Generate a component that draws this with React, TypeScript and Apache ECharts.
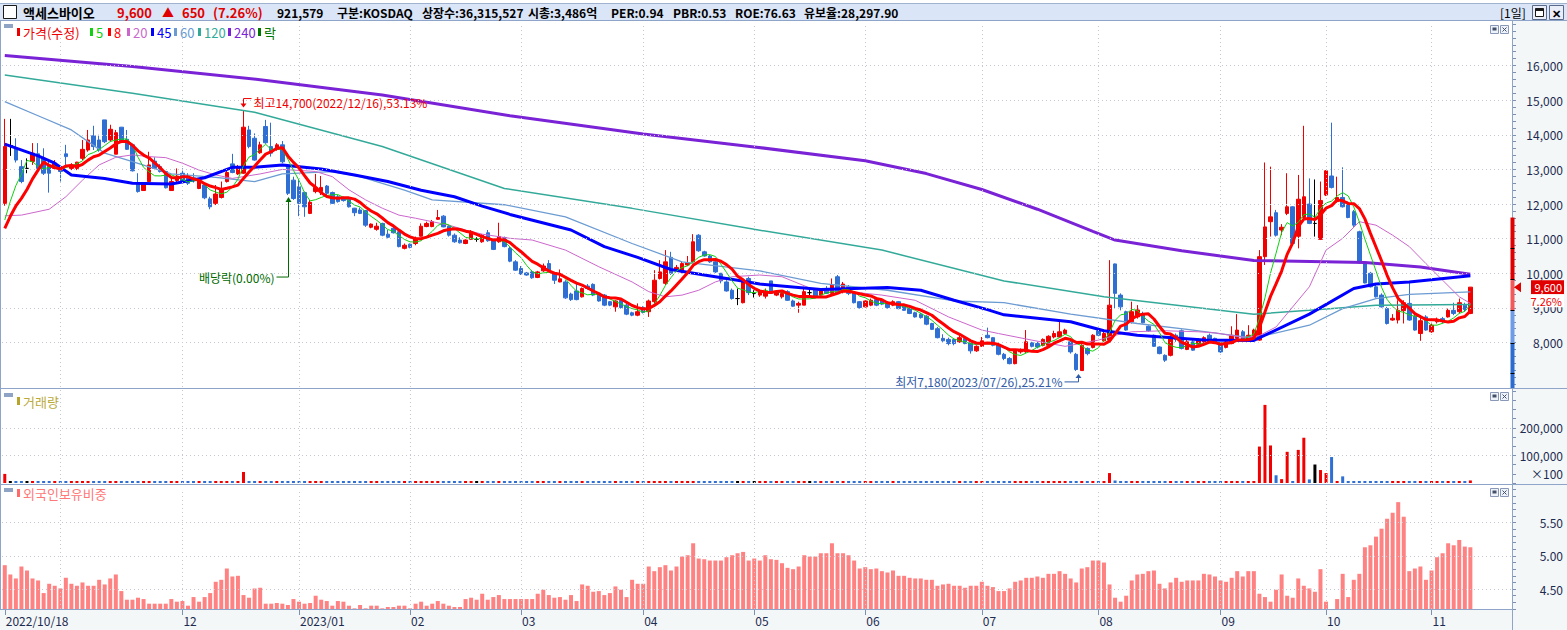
import React, { useEffect, useRef } from 'react';
import * as echarts from 'echarts';

const W = 1567;
const H = 630;
const FONT = '"Noto Sans CJK KR", "Noto Sans", sans-serif';
const AXIS_TEXT = '#1e2b50';
const UP = '#f00000';
const DOWN = '#2f6fd3';

// ---------- calendar ----------
const START_DATE = '2022-10-18';
const END_DATE = '2023-11-10';
const HOLIDAYS = [
  '2022-12-30', '2023-01-23', '2023-01-24', '2023-03-01', '2023-05-01', '2023-05-05',
  '2023-05-29', '2023-06-06', '2023-08-15', '2023-09-28', '2023-09-29', '2023-10-02',
  '2023-10-03', '2023-10-09',
];
const PAD_SLOTS = 7;

// closes before the first visible bar (implied by where MA5 / MA8 start)
const PRE_CLOSES = [10900, 10880, 10900, 10980, 11000, 11020, 11030];

// [open, close, low, high]
const CANDLES: [number, number, number, number][] = [
  [12020, 13660, 11950, 14460], [13690, 13690, 13390, 14460], [13590, 13270, 13200, 13900], [13080, 12650, 12600, 13270],
  [13030, 13030, 12890, 13320], [13230, 13470, 13130, 13760], [13450, 13030, 12940, 13760], [13320, 12890, 12840, 13610],
  [13130, 12890, 12330, 13270], [13030, 13180, 12980, 13270], [13050, 12940, 12650, 13080], [13450, 13370, 13130, 13710],
  [13030, 13130, 12980, 13180], [13030, 13210, 12980, 13220], [13320, 13580, 13270, 13850], [13560, 13850, 13510, 14140],
  [13970, 13660, 13560, 14260], [13850, 13560, 13510, 14000], [14430, 13800, 13760, 14430], [13850, 14160, 13800, 14290],
  [13440, 14060, 13440, 14140], [14220, 13800, 13760, 14220], [13870, 13580, 13560, 14140], [13710, 12960, 12940, 13740],
  [12620, 12360, 12330, 12890], [12390, 12600, 12380, 12620], [12650, 13130, 12650, 13510], [13240, 13030, 12980, 13350],
  [13080, 12940, 12910, 13150], [12940, 12470, 12450, 12960], [12390, 12650, 12380, 12770], [12680, 12810, 12620, 13030],
  [12890, 12650, 12600, 13030], [12790, 12600, 12550, 12890], [12760, 12670, 12620, 12890], [12450, 12670, 12430, 12690],
  [12550, 12180, 12140, 12600], [12150, 11920, 11850, 12210], [12020, 12290, 11970, 12550], [12190, 12410, 12160, 12650],
  [12650, 12910, 12620, 12960], [13160, 12910, 12890, 13450], [12870, 13080, 12840, 13130], [12890, 14220, 12870, 14700],
  [14140, 13660, 13610, 14260], [13900, 13270, 13250, 14040],
  [13480, 13710, 13450, 13800], [14240, 13770, 13740, 14430], [13660, 13470, 13370, 14350], [13580, 13710, 13540, 13760],
  [13710, 13220, 13180, 13820], [13080, 12310, 12260, 13130], [12690, 12160, 12120, 12790], [12500, 12020, 11650, 12690],
  [12330, 11920, 11630, 12360], [11730, 12050, 11710, 12120], [12360, 12480, 12310, 12870], [12360, 12480, 12260, 12810],
  [12520, 12310, 12260, 12550], [12330, 12020, 12000, 12360], [12210, 12070, 12040, 12260], [12160, 12100, 12070, 12210],
  [12140, 11920, 11900, 12160], [11880, 11750, 11650, 11890], [11830, 11730, 11710, 11900], [11810, 11390, 11340, 11830],
  [11330, 11420, 11300, 11440], [11270, 11360, 11230, 11460], [11440, 11100, 11070, 11460], [11130, 11040, 11010, 11250],
  [11300, 11170, 11150, 11340], [11200, 10770, 10750, 11250], [10720, 10810, 10690, 10860], [10840, 10750, 10720, 10860],
  [10860, 11010, 10810, 11060], [11070, 11360, 11060, 11440], [11350, 11440, 11330, 11490], [11350, 11490, 11330, 11540],
  [11560, 11610, 11540, 11830], [11650, 11340, 11330, 11680], [11360, 11100, 11060, 11390], [11100, 10910, 10880, 11150],
  [10960, 10880, 10860, 11040], [10860, 10960, 10840, 10980], [10980, 11200, 10960, 11250], [10980, 10980, 10910, 11040],
  [10910, 11100, 10880, 11130], [11170, 10940, 10910, 11250], [10940, 10690, 10670, 10960], [10910, 11060, 10880, 11460],
  [11030, 10770, 10750, 11060], [10720, 10350, 10320, 10770],
  [10330, 10090, 10070, 10380], [10140, 9980, 9950, 10210], [10010, 9950, 9930, 10040], [10040, 9870, 9840, 10090],
  [9880, 10040, 9860, 10070], [10070, 10210, 10040, 10280], [10280, 10070, 10030, 10380], [10010, 9800, 9690, 10040],
  [9750, 9840, 9740, 10110], [9750, 9290, 9260, 9800], [9400, 9240, 9200, 9440], [9490, 9240, 9220, 9730],
  [9320, 9560, 9300, 9590], [9630, 9560, 9530, 9690], [9680, 9370, 9340, 9710], [9420, 9200, 9180, 9440],
  [9370, 9080, 9050, 9400], [9180, 9080, 9050, 9200], [9030, 9200, 8890, 9220], [9220, 9010, 8980, 9240],
  [9080, 8820, 8790, 9130], [8860, 8790, 8760, 8890], [8790, 8890, 8760, 9130], [9010, 8870, 8840, 9050],
  [8890, 9200, 8740, 9240], [9180, 9800, 9130, 10090], [9850, 10040, 9820, 10380], [9710, 10330, 9660, 10670],
  [10460, 10000, 9950, 10620], [10070, 10170, 10040, 10240], [10040, 10280, 10000, 10330], [10240, 10300, 10210, 10500],
  [10330, 10910, 10300, 11130], [11100, 10650, 10620, 11130], [10620, 10500, 10480, 10650], [10500, 10330, 10300, 10530],
  [10330, 10040, 10010, 10380], [10000, 9780, 9710, 10010], [9750, 9490, 9470, 9800], [9510, 9270, 9240, 9560],
  [9270, 9270, 9080, 9560], [9150, 9800, 9130, 9820], [9850, 9440, 9370, 9900], [9420, 9420, 9300, 9510],
  [9370, 9470, 9320, 9510], [9340, 9480, 9270, 9560], [9780, 9420, 9400, 9780], [9370, 9470, 9340, 9510],
  [9320, 9420, 9270, 9470], [9470, 9220, 9200, 9510], [9200, 9050, 9030, 9240], [9080, 9130, 8860, 9180],
  [9080, 9470, 9080, 9610], [9440, 9440, 9340, 9590], [9530, 9320, 9300, 9560], [9370, 9490, 9350, 9530],
  [9530, 9420, 9400, 9630], [9420, 9660, 9400, 9850], [9900, 9420, 9400, 9950], [9470, 9690, 9420, 9750],
  [9610, 9420, 9370, 9660], [9440, 9150, 9130, 9470], [9180, 9010, 8980, 9200], [9030, 9200, 9010, 9220],
  [9080, 9220, 9050, 9270], [9240, 9080, 9050, 9270], [9200, 9110, 9080, 9220], [9150, 9010, 8980, 9180],
  [9080, 9180, 9050, 9220], [9180, 8980, 8960, 9200], [9050, 8930, 8920, 9080], [8980, 8840, 8820, 9010],
  [8860, 8740, 8720, 8890], [8820, 8720, 8690, 8860], [8760, 8530, 8500, 8790], [8550, 8380, 8360, 8570],
  [8400, 8140, 8120, 8450], [8120, 8050, 8020, 8240], [8090, 7970, 7920, 8140], [8090, 7970, 7920, 8120],
  [8020, 8140, 7990, 8210], [8120, 7970, 7950, 8140], [7990, 7760, 7680, 8020], [7760, 7890, 7730, 7920],
  [7890, 8050, 7870, 8160], [8210, 8140, 8120, 8430], [8140, 7920, 7890, 8160], [7920, 7660, 7630, 7950],
  [7660, 7540, 7490, 7700], [7540, 7390, 7370, 7580],
  [7390, 7760, 7370, 7780], [7730, 7780, 7680, 7830], [7730, 8020, 7700, 8360], [7990, 7890, 7860, 8020],
  [7970, 7870, 7830, 8020], [7920, 8090, 7890, 8120], [7920, 8180, 7890, 8210], [8160, 8260, 8120, 8340],
  [8160, 8310, 8140, 8600], [8260, 8360, 8240, 8400], [8020, 7730, 7680, 8070], [7660, 7220, 7180, 7700],
  [7190, 7920, 7180, 7950], [7830, 7680, 7630, 7860], [7860, 8210, 7830, 8240], [8340, 8210, 8180, 8380],
  [8050, 8260, 8020, 8310], [8070, 9080, 8050, 10380], [10270, 9420, 8980, 10280], [9370, 9030, 8930, 9420],
  [8890, 8360, 8340, 8920], [8600, 8890, 8550, 9180], [8740, 8940, 8690, 9080], [8840, 8570, 8550, 8890],
  [8470, 8340, 8310, 8500], [8210, 7890, 7870, 8230], [7870, 7680, 7660, 7890], [7630, 7490, 7440, 7660],
  [7630, 8160, 7600, 8210], [8210, 8090, 8020, 8260], [8340, 7830, 7800, 8380], [7800, 8020, 7780, 8070],
  [8020, 7780, 7760, 8070], [7950, 8070, 7920, 8120], [8020, 8140, 7990, 8180], [8210, 8020, 7990, 8260],
  [8120, 8020, 7990, 8140], [7950, 7730, 7700, 7970], [7860, 8020, 7830, 8070], [7970, 8210, 7950, 8470],
  [8120, 8360, 8090, 8820], [8310, 8070, 8050, 8360], [8070, 8210, 8020, 8500],
  [8070, 8360, 8020, 8400], [8070, 10480, 8050, 10670], [10480, 11340, 10240, 13200], [11490, 11630, 11060, 13080],
  [11750, 11100, 11060, 11830], [11250, 11330, 11100, 11420], [11730, 11920, 11680, 12890], [11920, 10860, 10840, 11940],
  [11070, 12140, 10720, 12840], [11610, 12210, 11590, 14260], [12000, 11440, 11420, 12740], [11440, 11440, 11060, 12710],
  [10980, 12100, 10960, 12650], [12260, 12960, 12230, 12980], [12810, 12480, 12450, 14350], [12070, 12190, 12040, 12790],
  [12190, 11920, 11900, 13060], [12020, 11610, 11590, 12070], [11780, 11390, 11340, 11830], [11200, 10300, 10280, 11230],
  [10280, 9720, 9710, 10330], [10000, 9610, 9590, 10040], [9610, 9320, 9300, 9660], [9370, 9030, 9010, 9420],
  [8980, 8550, 8520, 9030], [8650, 8700, 8630, 8820], [8650, 8930, 8550, 9220], [8920, 9150, 8550, 9220],
  [9130, 8650, 8630, 9750], [8760, 8360, 8340, 8820], [8260, 8630, 8050, 8740], [8740, 8360, 8340, 8790],
  [8310, 8500, 8280, 8550], [8600, 8660, 8550, 8720], [8690, 8630, 8550, 8740], [8740, 8930, 8720, 8980],
  [8930, 8840, 8790, 9150], [8890, 9150, 8840, 9270], [9080, 8950, 8890, 9150], [8840, 9600, 8820, 9600],
];

// volume, in units of 100 shares
const VOLUME = [
  33000, 5000, 2500, 1500, 1400, 4000, 2500, 1500, 1400, 1500,
  1500, 2500, 1500, 1400, 1500, 1500, 1400, 1500, 1500, 1500,
  2500, 1500, 1500, 1400, 1500, 1500, 2500, 1500, 1500, 1500,
  1500, 1500, 1400, 1500, 1500, 1500, 1500, 1400, 1500, 1500,
  1500, 1500, 1500, 40000, 2500, 1500, 1500, 2500, 4000, 1500,
  2500, 2500, 1500, 1500, 1400, 1500, 2500, 1500, 1500, 1500,
  1500, 1400, 1500, 1500, 1500, 1500, 1500, 1400, 1500, 1500,
  1500, 1500, 1500, 1500, 1400, 1500, 1500, 1500, 1500, 1500,
  1500, 1500, 1400, 1500, 1500, 1500, 1500, 1500, 1500, 1500,
  1500, 1500, 1500, 1400, 1500, 1500, 1500, 1500, 1500, 1500,
  1500, 1500, 1500, 1500, 1500, 1400, 1500, 1500, 1500, 1500,
  1500, 1500, 1500, 1500, 1500, 1500, 1500, 4000, 2500, 1500,
  1500, 1500, 1500, 1500, 2500, 1500, 1500, 1500, 1500, 1500,
  1500, 1500, 1500, 1500, 1500, 1500, 1500, 1500, 1500, 1500,
  1500, 1500, 1500, 1500, 1500, 1500, 1500, 1500, 1500, 1500,
  1500, 1500, 1500, 1500, 1500, 1500, 1500, 1500, 1500, 1500,
  1500, 1500, 1500, 1500, 1500, 1500, 1500, 1500, 1500, 1500,
  1500, 1500, 1500, 1500, 1500, 1500, 1500, 1500, 1500, 1500,
  1500, 1500, 1500, 1500, 1500, 1500, 1500, 1500, 1500, 1500,
  1500, 1500, 1500, 1500, 1500, 1500, 1500, 1500, 1500, 36000,
  9000, 3000, 3000, 4000, 1500, 1500, 1500, 1500, 1500, 1500,
  1500, 1500, 1500, 1500, 1500, 1500, 1500, 1500, 1500, 1500,
  2500, 1500, 4000, 1500, 1500, 1500, 132000, 283000, 136000, 28000,
  14000, 113000, 5000, 120000, 164000, 13000, 67000, 47000, 36000, 94000,
  5000, 24000, 5000, 4000, 5000, 3000, 3000, 3000, 2500, 3000,
  2500, 2500, 2500, 5000, 2000, 2000, 2000, 2000, 2000, 2000,
  2000, 2000, 2000, 2000, 9215.79,
];

// foreign ownership ratio (%)
const FOREIGN = [
  4.86, 4.72, 4.66, 4.84, 4.78, 4.66, 4.63, 4.44, 4.58, 4.55,
  4.51, 4.67, 4.58, 4.55, 4.60, 4.55, 4.55, 4.64, 4.57, 4.66,
  4.72, 4.47, 4.34, 4.34, 4.37, 4.35, 4.28, 4.28, 4.28, 4.28,
  4.35, 4.31, 4.32, 4.25, 4.38, 4.31, 4.38, 4.44, 4.61, 4.64,
  4.81, 4.69, 4.70, 4.41, 4.37, 4.51, 4.52, 4.28, 4.28, 4.29,
  4.28, 4.26, 4.35, 4.31, 4.28, 4.29, 4.40, 4.34, 4.32, 4.25,
  4.32, 4.31, 4.25, 4.21, 4.26, 4.21, 4.25, 4.25, 4.21, 4.23,
  4.23, 4.25, 4.25, 4.21, 4.28, 4.31, 4.25, 4.28, 4.32, 4.28,
  4.25, 4.23, 4.23, 4.35, 4.37, 4.34, 4.43, 4.34, 4.38, 4.41,
  4.35, 4.35, 4.35, 4.35, 4.35, 4.35, 4.43, 4.49, 4.41, 4.37,
  4.38, 4.34, 4.41, 4.32, 4.57, 4.55, 4.46, 4.47, 4.41, 4.44,
  4.54, 4.49, 4.38, 4.64, 4.58, 4.58, 4.84, 4.77, 4.83, 4.86,
  4.78, 4.84, 4.99, 5.01, 5.19, 4.96, 4.95, 4.93, 4.93, 4.93,
  4.98, 5.01, 5.04, 5.06, 4.93, 4.96, 4.93,
  5.01, 4.95, 4.94, 4.89, 4.82, 4.80, 4.84, 5.01, 4.99, 4.99,
  5.04, 5.04, 5.19, 5.04, 5.04, 5.01, 4.93, 4.81, 4.83, 4.80,
  4.81, 4.77, 4.75, 4.78, 4.70, 4.70, 4.67, 4.66, 4.66, 4.64,
  4.64, 4.55, 4.57, 4.58, 4.55, 4.55, 4.52, 4.55, 4.55, 4.61,
  4.55, 4.53, 4.47, 4.47, 4.51, 4.61, 4.63, 4.67, 4.67, 4.69,
  4.67, 4.73, 4.73, 4.77, 4.73, 4.66, 4.60, 4.81, 4.83, 4.93,
  4.93, 4.90, 4.57, 4.37, 4.31, 4.40, 4.63, 4.72, 4.73, 4.77,
  4.78, 4.58, 4.51, 4.60, 4.67, 4.61, 4.63, 4.63, 4.63, 4.73,
  4.72, 4.69, 4.63, 4.61, 4.67, 4.77, 4.69, 4.77, 4.77, 4.43,
  4.38, 4.31, 4.49, 4.72, 4.40, 4.37, 4.66, 4.55, 4.51, 4.46,
  4.80, 4.31, 4.20, 4.35, 4.73, 4.38, 4.64, 4.73, 5.13, 5.16,
  5.29, 5.41, 5.56, 5.65, 5.81, 5.59, 4.77, 4.81, 4.84, 4.64,
  4.78, 4.98, 5.04, 5.19, 5.16, 5.24, 5.14, 5.13,
];

// moving averages: [bar index, value]
const MA20_KNOTS: [number, number][] = [
  [0, 11660], [3, 11680], [8, 11850], [11, 12210], [14, 12690], [17, 13130], [20, 13350], [23, 13420],
  [26, 13370], [29, 13340], [32, 13180], [35, 12980], [38, 12840], [41, 12740], [46, 12870], [50, 13000],
  [56, 12940], [59, 12790], [62, 12410], [65, 12120], [68, 11880], [71, 11680], [74, 11590], [77, 11490],
  [80, 11390], [83, 11250], [86, 11130], [91, 11010], [95, 10960], [101, 10670], [107, 10190], [113, 9750],
  [116, 9470], [119, 9320], [122, 9370], [125, 9510], [128, 9750], [131, 9900], [136, 9950], [140, 9900],
  [146, 9510], [152, 9470], [158, 9370], [164, 9220], [170, 8740], [176, 8360], [179, 8260], [185, 8070],
  [191, 7890], [197, 8070], [200, 8210], [203, 8310], [209, 8340], [215, 8310], [218, 8280], [223, 8150],
  [226, 8200], [229, 8450], [235, 9610], [238, 10670], [241, 11010], [244, 11490], [247, 11390], [250, 11100],
  [253, 10770], [256, 10280], [259, 9800], [262, 9320], [264, 9130],
];
const MA45_KNOTS: [number, number][] = [
  [0, 13730], [6, 13390], [9, 13180], [12, 12840], [18, 12740], [23, 12600], [30, 12580], [36, 12760],
  [41, 13060], [45, 13060], [50, 13130], [57, 13010], [63, 12840], [69, 12650], [75, 12400], [81, 12210],
  [86, 11940], [91, 11700], [102, 11250], [108, 10770], [114, 10460], [120, 10110], [126, 9950], [132, 9800],
  [136, 9690], [147, 9530], [159, 9590], [165, 9510], [171, 9220], [177, 8950], [180, 8800], [192, 8600],
  [198, 8340], [204, 8210], [216, 8070], [225, 8060], [235, 8820], [243, 9560], [247, 9690], [253, 9750],
  [264, 9930],
];
const MA60_KNOTS: [number, number][] = [
  [0, 14960], [6, 14550], [12, 14140], [18, 13470], [23, 13225], [30, 12870], [38, 12770], [45, 12650],
  [50, 12870], [59, 12935], [64, 12790], [72, 12400], [77, 12120], [90, 11980], [101, 11630], [113, 10860],
  [122, 10330], [136, 10070], [147, 9710], [159, 9510], [171, 9200], [180, 9150], [192, 8820], [204, 8550],
  [213, 8380], [225, 8130], [235, 8500], [241, 8980], [247, 9270], [253, 9390], [264, 9465],
];
const MA120_KNOTS: [number, number][] = [
  [0, 15730], [23, 15200], [45, 14650], [68, 13660], [90, 12450], [113, 11875], [135, 11270], [158, 10670],
  [180, 9780], [198, 9320], [225, 8820], [235, 8930], [247, 9080], [264, 9100],
];
const MA240_KNOTS: [number, number][] = [
  [0, 16290], [23, 15970], [46, 15590], [68, 15150], [91, 14550], [115, 14020], [135, 13650], [155, 13250],
  [166, 12880], [176, 12420], [186, 11850], [196, 11210], [200, 10960], [212, 10650], [225, 10370], [245, 10310],
  [255, 10180], [264, 9970],
];

const EX_DIV_INDEX = 51;
// coloured price bar on the right axis (price bounds)
const RANGE_BAR: [number, number, string][] = [
  [11610, 9800, '#e00000'],
  [9800, 8940, '#f25a5a'],
  [8940, 7980, '#6e9ce6'],
  [7980, 6600, '#2c6cd0'],
];
const RANGE_TICKS = [10730, 9830, 8930, 7980, 7110];

const PRICE_GRID = [8000, 9000, 10000, 11000, 12000, 13000, 14000, 15000, 16000];
const VOLUME_GRID = [100000, 200000];
const FOREIGN_GRID = [4.5, 5.0, 5.5];

const HEADER_ITEMS: [string, number, string][] = [
  ['구분:KOSDAQ', 337, '#000000'],
  ['상장수:36,315,527', 422, '#000000'],
  ['시총:3,486억', 528, '#000000'],
  ['PER:0.94', 611, '#000000'],
  ['PBR:0.53', 673, '#000000'],
  ['ROE:76.63', 735, '#000000'],
  ['유보율:28,297.90', 804, '#000000'],
];
const STOCK_NAME = '액세스바이오';

const LEGEND_ITEMS: [string, string, number][] = [
  ['가격(수정)', '#ee0000', 17],
  ['5', '#10d010', 90],
  ['8', '#ff0000', 108],
  ['20', '#cc66cc', 127],
  ['45', '#0000ff', 151],
  ['60', '#6b9bd2', 174],
  ['120', '#33aa99', 198],
  ['240', '#7a22d6', 228],
  ['락', '#007700', 258],
];

// ---------- derived ----------
function tradingDays(start: string, end: string, holidays: string[]) {
  const out: string[] = [];
  const d = new Date(start + 'T00:00:00Z');
  const e = new Date(end + 'T00:00:00Z');
  const hol = new Set(holidays);
  while (d.getTime() <= e.getTime()) {
    const wd = d.getUTCDay();
    const s = d.toISOString().slice(0, 10);
    if (wd !== 0 && wd !== 6 && !hol.has(s)) out.push(s.replace(/-/g, '/'));
    d.setUTCDate(d.getUTCDate() + 1);
  }
  return out;
}

const DATES = tradingDays(START_DATE, END_DATE, HOLIDAYS).slice(0, CANDLES.length);
const CATEGORIES = [...DATES];
for (let k = 1; k <= PAD_SLOTS; k++) CATEGORIES.push('+' + k);
const N = CATEGORIES.length;

const MONTH_STARTS: number[] = [];
for (let i = 1; i < DATES.length; i++) {
  if (DATES[i].slice(5, 7) !== DATES[i - 1].slice(5, 7)) MONTH_STARTS.push(i);
}
const LABELS: Record<number, string> = { 0: DATES[0] };
{
  let last = 0;
  MONTH_STARTS.forEach((i) => {
    if (i - last >= 15) {
      const [y, m] = DATES[i].split('/');
      LABELS[i] = m === '01' ? `${y}/${m}` : m;
      last = i;
    }
  });
}

const fmt = (v: number) => Math.round(v).toLocaleString('en-US');

function movingAverage(n: number) {
  const closes = CANDLES.map((c) => c[1]);
  const all = [...PRE_CLOSES, ...closes];
  const off = PRE_CLOSES.length;
  return closes.map((_, i) => {
    const end = i + off;
    const start = end - n + 1;
    if (start < 0) return null;
    let s = 0;
    for (let k = start; k <= end; k++) s += all[k];
    return Math.round(s / n);
  });
}

function knotsToData(knots: [number, number][]) {
  const arr: (number | null)[] = new Array(N).fill(null);
  knots.forEach(([i, v]) => (arr[i] = v));
  return arr;
}

function candleColor(i: number) {
  const [o, c] = CANDLES[i];
  return c > o ? UP : c < o ? DOWN : '#000000';
}

function gridLines(idx: number, yValues: number[]) {
  return {
    type: 'line',
    xAxisIndex: idx,
    yAxisIndex: idx,
    data: new Array(N).fill(null),
    symbol: 'none',
    silent: true,
    z: 1,
    lineStyle: { width: 0 },
    markLine: {
      silent: true,
      symbol: ['none', 'none'],
      animation: false,
      label: { show: false },
      emphasis: { disabled: true },
      lineStyle: { color: '#c3c8d2', width: 1, type: [1, 3] },
      data: [
        ...yValues.map((v) => ({ yAxis: v })),
        ...MONTH_STARTS.map((i) => ({ xAxis: CATEGORIES[i] })),
      ],
    },
  };
}

function maLine(data: (number | null)[], color: string, width: number, z: number) {
  return {
    type: 'line',
    xAxisIndex: 0,
    yAxisIndex: 0,
    data,
    symbol: 'none',
    connectNulls: true,
    silent: true,
    z,
    lineStyle: { color, width },
  };
}

function buildOption() {
  const hiddenX = (g: number) => ({
    type: 'category',
    gridIndex: g,
    data: CATEGORIES,
    boundaryGap: true,
    axisLine: { show: false },
    axisTick: { show: false },
    axisLabel: { show: false },
    splitLine: { show: false },
  });
  const yBase = {
    type: 'value',
    position: 'right',
    axisLine: { show: false },
    axisTick: { show: true, length: 4, lineStyle: { color: '#7d90b0' } },
    splitLine: { show: false },
  };
  const labelStyle = { color: AXIS_TEXT, fontSize: 12, fontFamily: FONT, align: 'right', margin: 51 };

  return {
    animation: false,
    backgroundColor: 'transparent',
    grid: [
      { left: 2, right: 55, top: 24, height: 367, outerBoundsMode: 'none' },
      { left: 2, right: 55, top: 391, height: 92, outerBoundsMode: 'none' },
      { left: 2, right: 55, top: 489.5, height: 119.5, outerBoundsMode: 'none' },
    ],
    xAxis: [
      hiddenX(0),
      hiddenX(1),
      {
        type: 'category',
        gridIndex: 2,
        data: CATEGORIES,
        boundaryGap: true,
        axisLine: { show: false },
        axisTick: {
          show: true,
          alignWithLabel: true,
          length: 6,
          interval: (i: number) => LABELS[i] !== undefined,
          lineStyle: { color: '#7d90b0' },
        },
        axisLabel: {
          show: true,
          interval: (i: number) => LABELS[i] !== undefined,
          formatter: (_v: string, i: number) => LABELS[i] ?? '',
          align: 'left',
          margin: 5,
          padding: [0, 0, 0, 1],
          color: AXIS_TEXT,
          fontSize: 12,
          fontFamily: FONT,
        },
        splitLine: { show: false },
      },
    ],
    yAxis: [
      {
        ...yBase,
        gridIndex: 0,
        min: 6600,
        max: 17200,
        interval: 200,
        axisLabel: {
          ...labelStyle,
          formatter: (v: number) => (v % 1000 === 0 && v >= 8000 && v <= 16000 ? fmt(v) : ''),
        },
      },
      {
        ...yBase,
        gridIndex: 1,
        min: 0,
        max: 1000000 / 3,
        interval: 100000 / 3,
        axisLabel: {
          ...labelStyle,
          formatter: (v: number) => {
            const r = Math.round(v);
            if (Math.abs(r - 100000) < 3) return '100,000';
            if (Math.abs(r - 200000) < 3) return '200,000';
            if (Math.abs(r - 33333) < 3) return '×100';
            return '';
          },
        },
      },
      {
        ...yBase,
        gridIndex: 2,
        min: 4.2,
        max: 6.0,
        interval: 0.1,
        axisLabel: {
          ...labelStyle,
          formatter: (v: number) => {
            const t = Math.round(v * 100);
            return t % 50 === 0 && t >= 450 && t <= 550 ? (t / 100).toFixed(2) : '';
          },
        },
      },
    ],
    series: [
      gridLines(0, PRICE_GRID),
      {
        type: 'candlestick',
        xAxisIndex: 0,
        yAxisIndex: 0,
        data: CANDLES.map((c) => [c[0], c[1], c[2], c[3]]),
        barWidth: 4,
        silent: true,
        z: 2,
        itemStyle: {
          color: UP,
          color0: DOWN,
          borderColor: UP,
          borderColor0: DOWN,
          borderColorDoji: '#000000',
          borderWidth: 1,
        },
      },
      maLine(knotsToData(MA240_KNOTS), '#7a22d6', 3, 3),
      maLine(knotsToData(MA120_KNOTS), '#33aa99', 1.5, 3),
      maLine(knotsToData(MA60_KNOTS), '#6b9bd2', 1.3, 3),
      maLine(knotsToData(MA20_KNOTS), '#cc66cc', 1, 3),
      maLine(knotsToData(MA45_KNOTS), '#0000ff', 3, 4),
      maLine(movingAverage(5), '#10d010', 1, 4),
      maLine(movingAverage(8), '#ff0000', 3, 5),
      gridLines(1, VOLUME_GRID),
      {
        type: 'bar',
        xAxisIndex: 1,
        yAxisIndex: 1,
        data: VOLUME.map((v, i) => ({ value: v, itemStyle: { color: candleColor(i) } })),
        barWidth: 3,
        barMinHeight: 2,
        silent: true,
        z: 2,
      },
      gridLines(2, FOREIGN_GRID),
      {
        type: 'bar',
        xAxisIndex: 2,
        yAxisIndex: 2,
        data: FOREIGN,
        barWidth: 4,
        barMinHeight: 1,
        silent: true,
        z: 2,
        itemStyle: { color: '#ff8282' },
      },
    ],
  };
}

// ---------- graphics ----------
function txt(x: number, y: number, text: string, fill: string, size = 12, weight = 'normal', align = 'left', z = 20) {
  return {
    type: 'text',
    x,
    y,
    z,
    silent: true,
    style: {
      text,
      fill,
      fontSize: size,
      fontFamily: FONT,
      fontWeight: weight,
      align,
      verticalAlign: 'middle',
      textAlign: align,
      textVerticalAlign: 'middle',
    },
  };
}
function ln(x1: number, y1: number, x2: number, y2: number, stroke: string, z = 15, w = 1) {
  return { type: 'line', z, silent: true, shape: { x1, y1, x2, y2 }, style: { stroke, lineWidth: w } };
}
function rc(x: number, y: number, w: number, h: number, fill: string, stroke?: string, z = 15) {
  return {
    type: 'rect',
    z,
    silent: true,
    shape: { x, y, width: w, height: h },
    style: { fill, stroke: stroke ?? 'none', lineWidth: stroke ? 1 : 0 },
  };
}
function poly(points: number[][], fill: string, z = 20) {
  return { type: 'polygon', z, silent: true, shape: { points }, style: { fill } };
}
function panelIcons(y: number) {
  return [
    rc(1490.5, y + 0.5, 8, 8, '#eef2fa', '#8a98b8', 20),
    rc(1492.5, y + 2.5, 4, 3, '#44506a', undefined, 21),
    rc(1500.5, y + 0.5, 8, 8, '#eef2fa', '#8a98b8', 20),
    ln(1502.5, y + 2.5, 1506.5, y + 6.5, '#44506a', 21),
    ln(1506.5, y + 2.5, 1502.5, y + 6.5, '#44506a', 21),
  ];
}

function buildGraphics(chart: any) {
  const P = (i: number, v: number) => chart.convertToPixel({ gridIndex: 0 }, [i, v]) as number[];
  const Y = (v: number) => chart.convertToPixel({ yAxisIndex: 0 }, v) as number;
  const els: any[] = [];
  const BORDER = '#8ea4c8';

  // backgrounds
  els.push(rc(1512, 21, 55, 609, '#f3f7f8', undefined, -1));
  els.push(rc(0, 609.5, 1512, 21, '#f3f7f8', undefined, -1));

  // header
  els.push(rc(0, 3, W, 18, '#dae5f7', undefined, 10));
  els.push(ln(0, 3.5, W, 3.5, '#9fb2cf', 11));
  els.push(ln(0, 20.5, W, 20.5, BORDER, 11));
  els.push(rc(3.5, 5.5, 13, 13, '#ffffff', '#1a1a1a', 12));
  const last = CANDLES[CANDLES.length - 1][1];
  const prev = CANDLES[CANDLES.length - 2][1];
  const chg = last - prev;
  const pct = ((chg / prev) * 100).toFixed(2);
  els.push(txt(23, 12.5, STOCK_NAME, '#000000', 13, 'bold'));
  HEADER_ITEMS.forEach(([t, x, c]) => els.push(txt(x, 12.5, t, c, 12, 'bold')));
  els.push(txt(117, 12.5, fmt(last), '#e00000', 13, 'bold'));
  els.push(txt(162, 12.5, chg >= 0 ? '▲' : '▼', '#e00000', 12, 'bold'));
  els.push(txt(182, 12.5, fmt(Math.abs(chg)), '#e00000', 13, 'bold'));
  els.push(txt(213, 12.5, `(${pct}%)`, '#e00000', 13, 'bold'));
  els.push(txt(277, 12.5, fmt(VOLUME[VOLUME.length - 1] * 100), '#000000', 12, 'bold'));
  els.push(txt(1500, 12.5, '[1일]', '#000000', 12, 'normal'));
  els.push(rc(1532.5, 5.5, 14, 14, '#e9eef8', '#5a6a8a', 12));
  els.push(rc(1535.5, 8.5, 8, 8, '#ffffff', '#1a1a1a', 13));
  els.push(rc(1535.5, 8.5, 8, 2.5, '#1a1a1a', undefined, 14));
  els.push(rc(1549.5, 5.5, 14, 14, '#e9eef8', '#5a6a8a', 12));
  els.push(txt(1556.5, 12.5, '✕', '#000000', 11, 'bold', 'center'));

  // frame lines
  els.push(ln(0.5, 21, 0.5, 610, BORDER));
  els.push(ln(1512.5, 21, 1512.5, H, BORDER));
  els.push(ln(0, 388.5, W, 388.5, BORDER));
  els.push(ln(0, 484.5, W, 484.5, BORDER));
  els.push(ln(0, 609.5, 1512.5, 609.5, BORDER));

  // panel legends
  els.push(rc(4, 24, 9, 4, '#8fa3c4', undefined, 20));
  LEGEND_ITEMS.forEach(([t, c, x]) => {
    els.push(rc(x, 28, 3, 8, c, undefined, 20));
    els.push(txt(x + 6, 32, t, c, 13));
  });
  els.push(rc(4, 393, 9, 4, '#8fa3c4', undefined, 20));
  els.push(rc(17, 397, 3, 8, '#b8a42a', undefined, 20));
  els.push(txt(23, 401, '거래량', '#bba93a', 13));
  els.push(rc(4, 488, 9, 4, '#8fa3c4', undefined, 20));
  els.push(rc(17, 489, 3, 8, '#ff6a6a', undefined, 20));
  els.push(txt(23, 493, '외국인보유비중', '#ff7878', 13));
  els.push(...panelIcons(25), ...panelIcons(392), ...panelIcons(488));

  // highest / lowest annotations
  let iMax = 0;
  let iMin = 0;
  CANDLES.forEach((c, i) => {
    if (c[3] > CANDLES[iMax][3]) iMax = i;
    if (c[2] < CANDLES[iMin][2]) iMin = i;
  });
  const hi = CANDLES[iMax][3];
  const lo = CANDLES[iMin][2];
  const ph = P(iMax, hi);
  const hx = Math.round(ph[0]) + 0.5;
  const hy = ph[1] - 12;
  const RED = '#f00000';
  els.push(ln(hx, hy, hx + 8, hy, RED, 20));
  els.push(ln(hx, hy, hx, ph[1] - 6, RED, 20));
  els.push(poly([[hx - 3, ph[1] - 7], [hx + 3, ph[1] - 7], [hx, ph[1] - 3]], RED));
  els.push(txt(hx + 10, hy + 3.5, `최고${fmt(hi)}(${DATES[iMax]}),${(((hi - last) / last) * 100).toFixed(2)}%`, RED, 12));

  const pl = P(iMin, lo);
  const BLUE = '#2f5aa8';
  const lx = Math.round(pl[0]) + 2.5;
  const ly = pl[1] + 11;
  els.push(ln(lx - 14, ly, lx, ly, BLUE, 20));
  els.push(ln(lx, ly, lx, pl[1] + 6, BLUE, 20));
  els.push(poly([[lx - 3, pl[1] + 7], [lx + 3, pl[1] + 7], [lx, pl[1] + 3]], BLUE));
  els.push(txt(lx - 16, ly, `최저${fmt(lo)}(${DATES[iMin]}),${(((last - lo) / last) * 100).toFixed(2)}%`, BLUE, 12, 'normal', 'right'));

  const pe = P(EX_DIV_INDEX, CANDLES[EX_DIV_INDEX][2]);
  const GREEN = '#006a00';
  const ex = Math.round(pe[0]) + 0.5;
  const ey = pe[1] + 82;
  els.push(ln(ex - 12, ey, ex, ey, GREEN, 20));
  els.push(ln(ex, ey, ex, pe[1] + 6, GREEN, 20));
  els.push(poly([[ex - 3, pe[1] + 7], [ex + 3, pe[1] + 7], [ex, pe[1] + 2]], GREEN));
  els.push(txt(ex - 14, ey, '배당락(0.00%)', GREEN, 12, 'normal', 'right'));

  // right coloured range bar
  RANGE_BAR.forEach(([a, b, c]) => {
    const ya = Y(a);
    const yb = Math.min(Y(b), 388);
    els.push(rc(1510.5, ya, 4, yb - ya, c, undefined, 18));
  });
  RANGE_TICKS.forEach((v) => {
    const y = Math.round(Y(v)) + 0.5;
    els.push(ln(1510.5, y, 1514.5, y, '#000000', 19));
  });

  // current price marker
  const yc = Y(last);
  els.push(poly([[1514, yc], [1521, yc - 5], [1521, yc + 5]], '#e00000', 22));
  els.push(rc(1531, yc - 7, 33, 14, '#e00000', undefined, 22));
  els.push(txt(1562, yc, fmt(last), '#ffffff', 11, 'normal', 'right', 23));
  els.push(rc(1531, yc + 7, 33, 13, '#ffffff', undefined, 22));
  els.push(txt(1562, yc + 14, `${pct}%`, '#f00000', 11, 'normal', 'right', 23));

  return els;
}

export default function App() {
  const ref = useRef<HTMLDivElement>(null);
  useEffect(() => {
    const el = ref.current;
    if (!el) return;
    const chart = echarts.init(el, null, { renderer: 'svg', width: W, height: H });
    chart.setOption(buildOption() as any);
    chart.setOption({ graphic: { elements: buildGraphics(chart) } } as any);
    return () => chart.dispose();
  }, []);
  return (
    <div style={{ position: 'fixed', left: 0, top: 0, width: W, height: H, background: '#ffffff' }}>
      <div ref={ref} style={{ width: W, height: H }} />
    </div>
  );
}
